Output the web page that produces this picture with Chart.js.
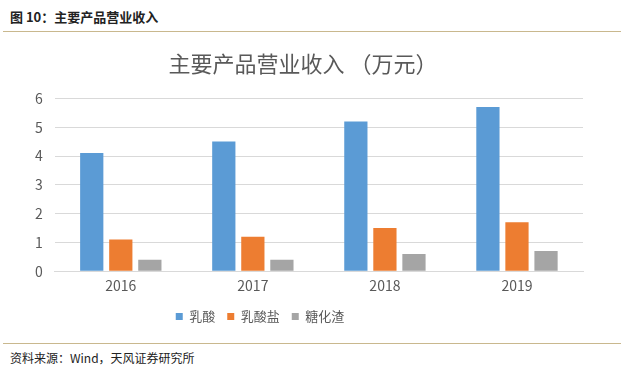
<!DOCTYPE html>
<html lang="zh">
<head>
    <meta charset="UTF-8">
    <title>主要产品营业收入</title>
    <script src="https://cdn.jsdelivr.net/npm/chart.js@4.4.0/dist/chart.umd.min.js"></script>
    <style>
        body { margin: 0; background: #fff; font-family: "Noto Sans CJK SC", sans-serif; }
        #page { position: relative; width: 627px; height: 371px; }
        #head { position: absolute; left: 10px; top: 7px; font-size: 13px; font-weight: bold; color: #222; }
        .rule { position: absolute; left: 3px; width: 618px; height: 1px; background: #c9b88e; }
        #box { position: absolute; left: 0; top: 36px; width: 627px; height: 304px; }
        #src { position: absolute; left: 10px; top: 349px; font-size: 12px; color: #222; }
    </style>
</head>
<body>
<div id="page">
    <div id="head">图 10：主要产品营业收入</div>
    <div class="rule" style="top:31px"></div>
    <div id="box"><canvas id="chart"></canvas></div>
    <div class="rule" style="top:343px"></div>
    <div id="src">资料来源：Wind，天风证券研究所</div>
</div>
<script>
const years = ['2016', '2017', '2018', '2019'];
const lacticAcid = [4.1, 4.5, 5.2, 5.7];
const lactate = [1.1, 1.2, 1.5, 1.7];
const residue = [0.4, 0.4, 0.6, 0.7];
const yTicks = [0, 1, 2, 3, 4, 5, 6];

const txt = '#595959';

// the original legend sits left of centre
const legendShift = {
    id: 'legendShift',
    afterLayout(chart) {
        chart.legend.left -= 43;
        chart.legend.right -= 43;
    }
};

const ctx = document.getElementById('chart').getContext('2d');
new Chart(ctx, {
    type: 'bar',
    data: {
        labels: years,
        datasets: [
            { label: '乳酸', data: lacticAcid, backgroundColor: '#5b9bd5' },
            { label: '乳酸盐', data: lactate, backgroundColor: '#ed7d31' },
            { label: '糖化渣', data: residue, backgroundColor: '#a5a5a5' }
        ]
    },
    plugins: [legendShift],
    options: {
        responsive: true,
        maintainAspectRatio: false,
        animation: false,
        categoryPercentage: 0.66,
        barPercentage: 0.8,
        layout: { padding: { left: 23, right: 44, top: 0, bottom: 7 } },
        plugins: {
            title: {
                display: true,
                text: '主要产品营业收入 （万元）',
                color: txt,
                font: { size: 22, family: 'Noto Sans CJK SC', weight: 'normal' },
                padding: { top: 14, bottom: 22 }
            },
            legend: {
                position: 'bottom',
                labels: {
                    color: txt,
                    boxWidth: 7,
                    boxHeight: 7,
                    padding: 12,
                    font: { size: 13, family: 'Noto Sans CJK SC' }
                }
            },
            tooltip: { enabled: false }
        },
        scales: {
            x: {
                afterFit: axis => { axis.height += 6; },
                grid: { display: false },
                border: { color: '#d9d9d9' },
                ticks: { color: txt, font: { size: 14, family: 'Noto Sans CJK SC' }, padding: -2 }
            },
            y: {
                min: 0,
                max: 6,
                afterBuildTicks: axis => { axis.ticks = yTicks.map(v => ({ value: v })); },
                grid: { color: '#d9d9d9', drawTicks: false },
                border: { display: false },
                ticks: { color: txt, font: { size: 14, family: 'Noto Sans CJK SC' }, padding: 12 }
            }
        }
    }
});
</script>
</body>
</html>
